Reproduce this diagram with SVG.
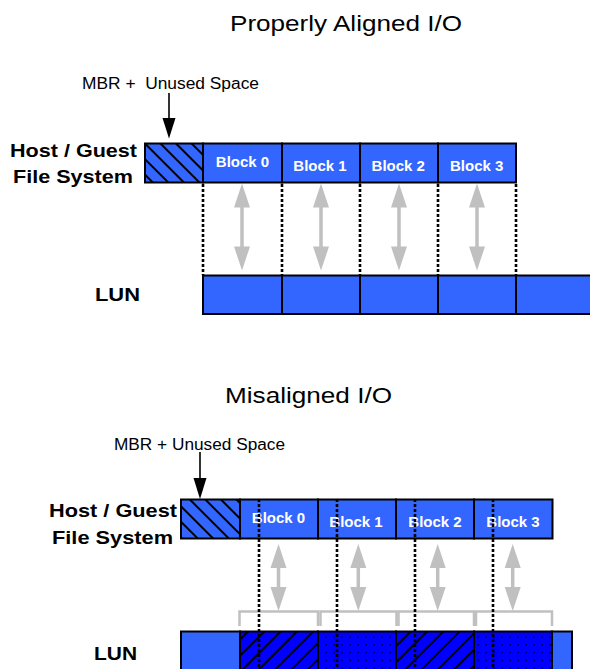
<svg xmlns="http://www.w3.org/2000/svg" width="590" height="669" viewBox="0 0 590 669">
<style>
.title{font-family:"Liberation Sans",Arial,sans-serif;font-size:22px;fill:#000}
.note{font-family:"Liberation Sans",Arial,sans-serif;font-size:16px;fill:#000}
.lbl{font-family:"Liberation Sans",Arial,sans-serif;font-size:18.5px;font-weight:bold;fill:#000}
.blk{font-family:"Liberation Sans",Arial,sans-serif;font-size:15px;font-weight:bold;fill:#fff;text-anchor:middle}
.box{stroke:#000;stroke-width:2}
.lt{fill:#3366ff}
.dot{stroke:#000;stroke-width:2.6;stroke-dasharray:3 2;fill:none}
.gray{fill:#c0c0c0}
.brk{fill:none;stroke:#c0c0c0;stroke-width:2.5}
</style>
<defs>
<pattern id="hatchB" patternUnits="userSpaceOnUse" width="11" height="11" patternTransform="rotate(-45)">
<rect width="11" height="11" fill="#3366ff"/>
<line x1="1" y1="0" x2="1" y2="11" stroke="#000" stroke-width="2"/>
</pattern>
<pattern id="hatchF" patternUnits="userSpaceOnUse" width="11.5" height="11.5" patternTransform="rotate(45)">
<rect width="11.5" height="11.5" fill="#0000ff"/>
<line x1="1" y1="0" x2="1" y2="11.5" stroke="#000" stroke-width="2"/>
</pattern>
<pattern id="dots" patternUnits="userSpaceOnUse" width="8" height="7.7" x="2" y="2">
<rect width="8" height="7.7" fill="#0000ff"/>
<rect x="3" y="3" width="1.6" height="1.6" fill="#000"/>
</pattern>
<path id="dblTop" d="M0,0 L8,24 L1.75,24 L1.75,63 L8,63 L0,87 L-8,63 L-1.75,63 L-1.75,24 L-8,24Z"/>
<path id="dblBot" d="M0,0 L8,24 L1.75,24 L1.75,43 L8,43 L0,67 L-8,43 L-1.75,43 L-1.75,24 L-8,24Z"/>
</defs>
<rect width="590" height="669" fill="#fff"/>

<!-- Top section -->
<g id="title-aligned"><text class="title" x="230" y="30.5" textLength="232" lengthAdjust="spacingAndGlyphs">Properly Aligned I/O</text></g>
<g id="mbr-note-top"><text class="note" x="82" y="88.5" textLength="177" lengthAdjust="spacingAndGlyphs">MBR + &#160;Unused Space</text></g>
<g id="host-label-top">
<text class="lbl" x="10" y="157" textLength="127" lengthAdjust="spacingAndGlyphs">Host / Guest</text>
<text class="lbl" x="13" y="183.3" textLength="120" lengthAdjust="spacingAndGlyphs">File System</text>
</g>
<g id="lun-label-top"><text class="lbl" x="95" y="300.5" textLength="45" lengthAdjust="spacingAndGlyphs">LUN</text></g>

<g id="host-top">
<rect class="box" x="145" y="143.5" width="58" height="39" fill="url(#hatchB)"/>
<g id="top-block0"><rect class="box lt" x="203" y="143.5" width="79" height="39"/><text class="blk" x="242.5" y="167.3">Block 0</text></g>
<g id="top-block1"><rect class="box lt" x="282" y="143.5" width="78" height="39"/><text class="blk" x="320" y="170.7">Block 1</text></g>
<g id="top-block2"><rect class="box lt" x="360" y="143.5" width="78" height="39"/><text class="blk" x="398.3" y="170.7">Block 2</text></g>
<g id="top-block3"><rect class="box lt" x="438" y="143.5" width="78" height="39"/><text class="blk" x="476.7" y="170.7">Block 3</text></g>
</g>
<g id="lun-top">
<rect class="box lt" x="203" y="275.5" width="79" height="38.5"/>
<rect class="box lt" x="282" y="275.5" width="78" height="38.5"/>
<rect class="box lt" x="360" y="275.5" width="78" height="38.5"/>
<rect class="box lt" x="438" y="275.5" width="78" height="38.5"/>
<rect class="box lt" x="516" y="275.5" width="80" height="38.5"/>
</g>

<!-- Bottom section -->
<g id="title-misaligned"><text class="title" x="225" y="403" textLength="167" lengthAdjust="spacingAndGlyphs">Misaligned I/O</text></g>
<g id="mbr-note-bottom"><text class="note" x="114" y="449.5" textLength="171" lengthAdjust="spacingAndGlyphs">MBR + Unused Space</text></g>
<g id="host-label-bottom">
<text class="lbl" x="49" y="517.3" textLength="128" lengthAdjust="spacingAndGlyphs">Host / Guest</text>
<text class="lbl" x="52" y="544" textLength="121" lengthAdjust="spacingAndGlyphs">File System</text>
</g>
<g id="lun-label-bottom"><text class="lbl" x="94" y="660" textLength="43" lengthAdjust="spacingAndGlyphs">LUN</text></g>

<g id="host-bottom">
<rect class="box" x="181" y="499.5" width="59" height="39" fill="url(#hatchB)"/>
<g id="bot-block0"><rect class="box lt" x="240" y="499.5" width="78" height="39"/><text class="blk" x="278.5" y="522.7">Block 0</text></g>
<g id="bot-block1"><rect class="box lt" x="318" y="499.5" width="78" height="39"/><text class="blk" x="356" y="526.7">Block 1</text></g>
<g id="bot-block2"><rect class="box lt" x="396" y="499.5" width="78" height="39"/><text class="blk" x="435" y="526.7">Block 2</text></g>
<g id="bot-block3"><rect class="box lt" x="474" y="499.5" width="78.5" height="39"/><text class="blk" x="513" y="526.7">Block 3</text></g>
</g>
<g id="lun-bottom">
<rect class="box lt" x="181" y="631.5" width="59" height="42"/>
<rect class="box" x="240" y="631.5" width="78" height="42" fill="url(#hatchF)"/>
<rect class="box" x="318" y="631.5" width="78" height="42" fill="url(#dots)"/>
<rect class="box" x="396" y="631.5" width="78" height="42" fill="url(#hatchF)"/>
<rect class="box" x="474" y="631.5" width="78" height="42" fill="url(#dots)"/>
<rect class="box lt" x="552" y="631.5" width="20" height="42"/>
</g>

<g id="connectors">
<!-- MBR pointers -->
<line x1="169" y1="93" x2="169" y2="119" stroke="#000" stroke-width="1.6"/>
<polygon points="162.5,118 175.5,118 169,138.5" fill="#000"/>
<line x1="200" y1="452" x2="200" y2="479" stroke="#000" stroke-width="1.6"/>
<polygon points="193.5,478 206.5,478 200,499" fill="#000"/>
<!-- top dotted boundaries -->
<line class="dot" x1="203" y1="184" x2="203" y2="275"/>
<line class="dot" x1="282" y1="184" x2="282" y2="275"/>
<line class="dot" x1="360" y1="184" x2="360" y2="275"/>
<line class="dot" x1="438" y1="184" x2="438" y2="275"/>
<line class="dot" x1="516" y1="184" x2="516" y2="275"/>
<!-- top gray arrows -->
<use href="#dblTop" class="gray" x="242" y="183.5"/>
<use href="#dblTop" class="gray" x="321" y="183.5"/>
<use href="#dblTop" class="gray" x="399" y="183.5"/>
<use href="#dblTop" class="gray" x="477" y="183.5"/>
<!-- bottom gray arrows -->
<use href="#dblBot" class="gray" x="278.5" y="544"/>
<use href="#dblBot" class="gray" x="358.3" y="544"/>
<use href="#dblBot" class="gray" x="437.7" y="544"/>
<use href="#dblBot" class="gray" x="512.7" y="544"/>
<!-- brackets -->
<path class="brk" d="M239.5,626 V611.5 H318 V626"/>
<path class="brk" d="M320.5,626 V611.5 H396.5 V626"/>
<path class="brk" d="M398.5,626 V611.5 H474 V626"/>
<path class="brk" d="M476,626 V611.5 H552 V626"/>
<!-- bottom dotted boundaries -->
<line class="dot" x1="259" y1="499" x2="259" y2="669"/>
<line class="dot" x1="337" y1="499" x2="337" y2="669"/>
<line class="dot" x1="415" y1="499" x2="415" y2="669"/>
<line class="dot" x1="493" y1="499" x2="493" y2="669"/>
</g>
</svg>
